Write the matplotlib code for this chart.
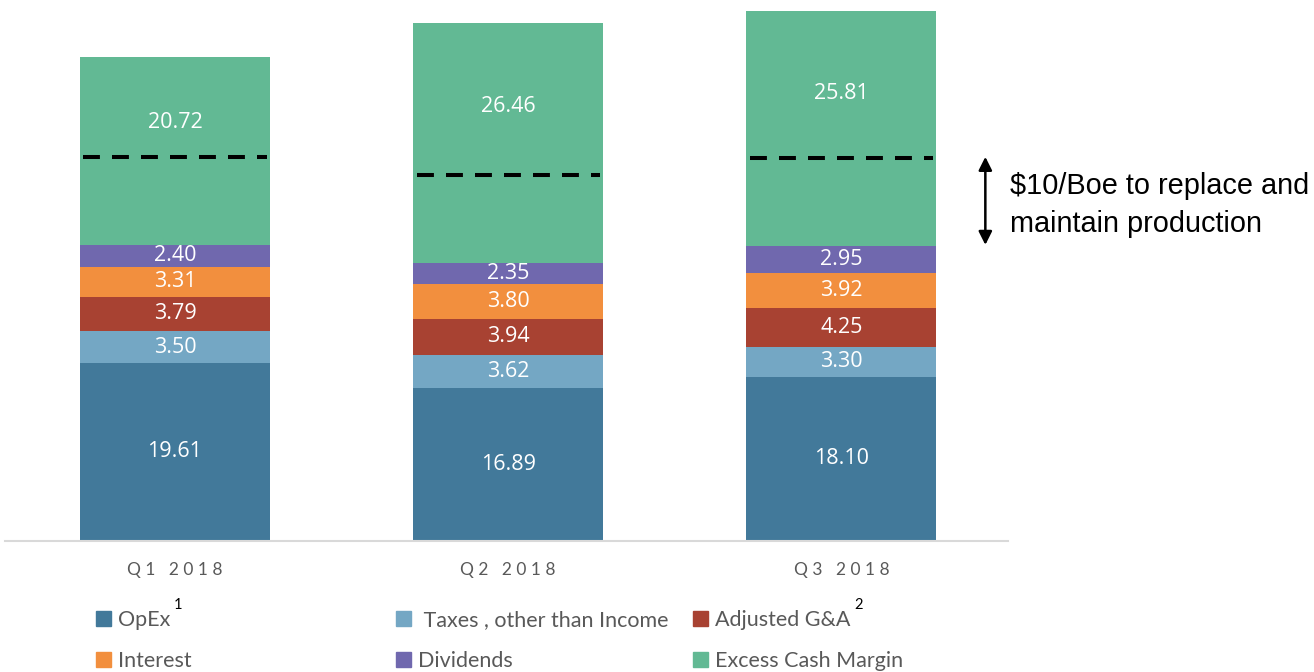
import numpy as np
import matplotlib.pyplot as plt
from matplotlib.patches import Patch

# data ($/Boe)
quarters = ["Q1 2018", "Q2 2018", "Q3 2018"]
series = ["OpEx", "Taxes , other than Income", "Adjusted G&A", "Interest", "Dividends", "Excess Cash Margin"]
opex = [19.61, 16.89, 18.10]
taxes = [3.50, 3.62, 3.30]
adj_ga = [3.79, 3.94, 4.25]
interest = [3.31, 3.80, 3.92]
dividends = [2.40, 2.35, 2.95]
excess = [20.72, 26.46, 25.81]
replace_cost = 10.0  # $10/Boe marker inside excess cash margin

colors = ["#42799a", "#74a7c4", "#a84232", "#f28f3e", "#7068ae", "#62b994"]
legend_labels = ["OpEx", " Taxes , other than Income", "Adjusted G&A",
                 "Interest", "Dividends", "Excess Cash Margin"]
footnotes = {0: "1", 2: "2"}

fig = plt.figure(figsize=(13.14, 6.72), dpi=100)
ax = fig.add_axes([5 / 1314, 131 / 672, 1003 / 1314, 541 / 672])

x = np.arange(len(quarters))
width = 0.57
stack = [opex, taxes, adj_ga, interest, dividends, excess]
bottom = np.zeros(len(quarters))
for i, (vals, col) in enumerate(zip(stack, colors)):
    vals = np.array(vals)
    ax.bar(x, vals, width, bottom=bottom, color=col, edgecolor="none")
    # the excess cash margin label sits in the upper part of its segment
    frac = 0.65 if i == len(stack) - 1 else 0.5
    for xi, b, v in zip(x, bottom, vals):
        ax.text(xi, b + v * frac, f"{v:.2f}", ha="center", va="center", color="white",
                fontsize=15.5, family="Open Sans")
    bottom = bottom + vals

# dashed $10/Boe line above the dividends
base_excess = bottom - np.array(excess)
for xi, b in zip(x, base_excess):
    ax.plot([xi - width / 2 + 0.01, xi + width / 2 - 0.01], [b + replace_cost - 0.3] * 2,
            color="black", lw=2.9, ls=(0, (4.2, 3.0)))

# double arrow
ax.annotate("", xy=(2.432, base_excess[0] + replace_cost - 0.3), xytext=(2.432, base_excess[0]),
            arrowprops=dict(arrowstyle="<|-|>", color="black", lw=1.8, mutation_scale=20,
                            shrinkA=0, shrinkB=0))
fig.text(1010 / 1314, 1 - 205 / 672, "$10/Boe to replace and\nmaintain production",
         ha="left", va="center", fontsize=20.8, family="Liberation Sans", linespacing=1.45)

ax.set_xlim(-0.51, 2.50)
ax.set_ylim(0, 541 / 9.08)
for s in ["top", "right", "left"]:
    ax.spines[s].set_visible(False)
ax.spines["bottom"].set_color("#d9d9d9")
ax.spines["bottom"].set_linewidth(1.5)
ax.set_yticks([])
ax.set_xticks(x)
ax.set_xticklabels([" ".join(q) for q in quarters],
                   family="Lato", fontsize=12.5, color="#595959")
ax.tick_params(axis="x", length=0, pad=15)

# legend: one entry per slot, three columns by two rows
handles = [Patch(color=c) for c in colors]
col_x = [96, 396, 693]
row_y = [620, 661]
for k in range(6):
    leg = fig.legend([handles[k]], [legend_labels[k]], loc="center left",
                     bbox_to_anchor=(col_x[k % 3] / 1314, 1 - row_y[k // 3] / 672),
                     frameon=False, handlelength=0.7, handleheight=0.7,
                     handletextpad=0.3, borderpad=0, borderaxespad=0,
                     prop=dict(family="Lato", size=15.5), labelcolor="#595959")
    if k in footnotes:
        fig.canvas.draw()
        bb = leg.get_texts()[0].get_window_extent()
        fig.text((bb.x1 + 4) / 1314, 1 - (row_y[k // 3] - 15) / 672, footnotes[k],
                 ha="left", va="center", fontsize=10.5, family="Lato", color="black")

fig.savefig("out.png", dpi=100)
